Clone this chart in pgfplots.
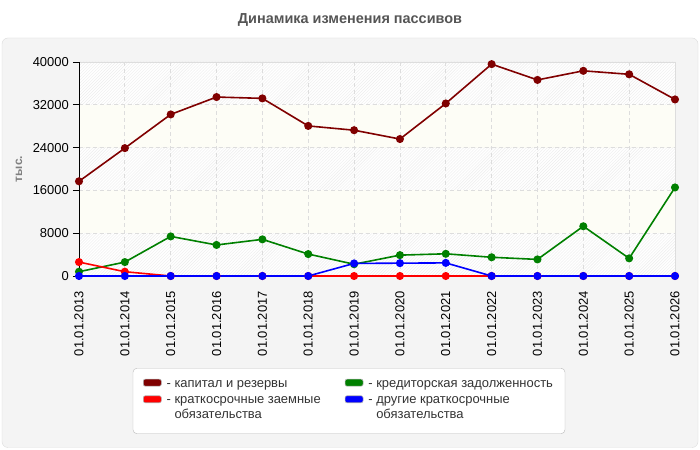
\documentclass[border=0pt]{standalone}
\usepackage{fontspec}
\setmainfont{Liberation Sans}
\usepackage{pgfplots}
\pgfplotsset{compat=1.18}
\usetikzlibrary{patterns}
\pgfdeclarelayer{bg}
\pgfplotsset{layers/mylayers/.define layer set={bg,axis background,axis grid,axis ticks,axis lines,axis tick labels,pre main,main,axis descriptions,axis foreground}{}}
\definecolor{capcol}{HTML}{800000}
\definecolor{loancol}{HTML}{FF0000}
\definecolor{credcol}{HTML}{008000}
\definecolor{othcol}{HTML}{0000FF}
\definecolor{panelbg}{HTML}{F4F4F4}
\definecolor{panelborder}{HTML}{DCDCDC}
\definecolor{titlecol}{HTML}{555555}
\definecolor{gridcol}{HTML}{DDDDDD}
\definecolor{bandcol}{HTML}{FDFDF6}
\definecolor{hatchcol}{HTML}{EDEDED}
\definecolor{legtext}{HTML}{333333}
\begin{document}
\begin{tikzpicture}
\pgfplotsset{set layers=mylayers}
\begin{pgfonlayer}{bg}
\fill[white] (0bp,0bp) rectangle (700bp,450bp);
\filldraw[fill=panelbg, draw=panelborder, rounded corners=6bp] (2bp,2.5bp) rectangle (698bp,412bp);
\node[font=\bfseries\fontsize{14.5}{16}\selectfont, text=titlecol] at (350bp,430bp) {Динамика изменения пассивов};
\end{pgfonlayer}
\begin{axis}[
  set layers=mylayers,
  at={(79bp,174bp)}, anchor=south west,
  scale only axis, width=596bp, height=214bp,
  xmin=0, xmax=13, ymin=0, ymax=40000,
  clip=false,
  xtick={0,...,13},
  xticklabels={01.01.2013,01.01.2014,01.01.2015,01.01.2016,01.01.2017,01.01.2018,01.01.2019,01.01.2020,01.01.2021,01.01.2022,01.01.2023,01.01.2024,01.01.2025,01.01.2026},
  ytick={0,8000,16000,24000,32000,40000},
  scaled y ticks=false,
  /pgf/number format/1000 sep={},
  /pgf/number format/assume math mode=true,
  tick label style={font=\fontsize{13}{15}\selectfont, text=black},
  xticklabel style={rotate=90, anchor=east, inner sep=0pt},
  xticklabel shift=9bp,
  yticklabel style={anchor=east, inner sep=0pt},
  yticklabel shift=4bp,
  tick align=outside,
  tick pos=left,
  major tick length=6bp,
  xtick style={draw=none},
  ytick style={black, line width=0.8bp},
  grid=major,
  grid style={gridcol, dash pattern=on 4bp off 3bp, line width=0.8bp},
  axis line style={gridcol, line width=0.8bp},
  ylabel={тыс.},
  ylabel style={at={(axis description cs:-0.1007,0.5)}, anchor=center, font=\bfseries\fontsize{12}{14}\selectfont, text=gray},
  legend columns=2,
  legend style={
    at={(axis description cs:0.453,-0.430)}, anchor=north,
    draw=gray!55, rounded corners=4bp, fill=white,
    font=\fontsize{13}{14.5}\selectfont, text=legtext,
    inner xsep=10bp, inner ysep=10bp, row sep=1bp,
    cells={anchor=base west, inner sep=0pt},
    /tikz/every odd column/.append style={column sep=3bp},
    /tikz/every even column/.append style={column sep=22bp},
  },
  every axis plot/.append style={line width=1.6bp, mark=*, mark size=3.2bp, mark options={solid}},
]
\begin{pgfonlayer}{axis background}
\fill[white] (axis cs:0,0) rectangle (axis cs:13,40000);
\fill[pattern=north east lines, pattern color=hatchcol] (axis cs:0,32000) rectangle (axis cs:13,40000);
\fill[bandcol] (axis cs:0,24000) rectangle (axis cs:13,32000);
\fill[pattern=north east lines, pattern color=hatchcol] (axis cs:0,16000) rectangle (axis cs:13,24000);
\fill[bandcol] (axis cs:0,8000) rectangle (axis cs:13,16000);
\fill[pattern=north east lines, pattern color=hatchcol] (axis cs:0,0) rectangle (axis cs:13,8000);
\end{pgfonlayer}
\draw[black, line width=0.8bp] (rel axis cs:0,0) -- (rel axis cs:0,1);

\addplot[color=capcol, legend image code/.code={\draw[draw=gray!60, fill=capcol, rounded corners=2bp, line width=0.6bp] (0bp,1bp) rectangle (18bp,8bp);}]
coordinates {(0,17700) (1,23900) (2,30200) (3,33450) (4,33200) (5,28050) (6,27250) (7,25600) (8,32250) (9,39600) (10,36650) (11,38350) (12,37700) (13,33000)};
\addlegendentry{- капитал и резервы}

\addplot[color=credcol, forget plot]
coordinates {(0,800) (1,2600) (2,7400) (3,5800) (4,6850) (5,4100) (6,2200) (7,3900) (8,4150) (9,3500) (10,3100) (11,9300) (12,3300) (13,16550)};

\addlegendimage{legend image code/.code={\draw[draw=gray!60, fill=credcol, rounded corners=2bp, line width=0.6bp] (0bp,1bp) rectangle (18bp,8bp);}}
\addlegendentry{- кредиторская задолженность}

\addplot[color=loancol, legend image code/.code={\draw[draw=gray!60, fill=loancol, rounded corners=2bp, line width=0.6bp] (0bp,1bp) rectangle (18bp,8bp);}]
coordinates {(0,2600) (1,800) (2,0) (3,0) (4,0) (5,0) (6,0) (7,0) (8,0) (9,0) (10,0) (11,0) (12,0) (13,0)};
\addlegendentry{- \begin{tabular}[t]{@{}l@{}}краткосрочные заемные\\обязательства\end{tabular}}

\addplot[color=othcol, legend image code/.code={\draw[draw=gray!60, fill=othcol, rounded corners=2bp, line width=0.6bp] (0bp,1bp) rectangle (18bp,8bp);}]
coordinates {(0,0) (1,0) (2,0) (3,0) (4,0) (5,0) (6,2350) (7,2400) (8,2450) (9,0) (10,0) (11,0) (12,0) (13,0)};
\addlegendentry{- \begin{tabular}[t]{@{}l@{}}другие краткосрочные\\обязательства\end{tabular}}

\addlegendimage{empty legend}
\addlegendentry{\rule{0pt}{10bp}}
\end{axis}
\end{tikzpicture}
\end{document}
